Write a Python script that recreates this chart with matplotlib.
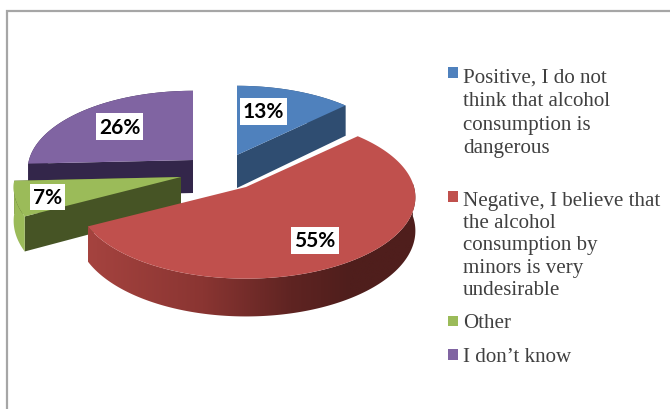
import numpy as np
import matplotlib
matplotlib.use("Agg")
import matplotlib.pyplot as plt
from matplotlib.patches import Polygon, Rectangle
from matplotlib.colors import LinearSegmentedColormap

categories = ["Positive, I do not\nthink that alcohol\nconsumption is\ndangerous",
              "Negative, I believe that\nthe alcohol\nconsumption by\nminors is very\nundesirable",
              "Other", "I don\u2019t know"]
values = [13, 55, 7, 26]
percent_labels = ["13%", "55%", "7%", "26%"]
top_colors = ["#4f81bd", "#c0504d", "#9bbb59", "#8064a2"]
cut_colors = ["#2f4d71", "#7a2f2d", "#465425", "#33264a"]
outer_colors = ["#2f4d71", None, "#9bbb59", "#33264a"]
centers = [(237, 156), (246, 188), (181, 178), (193, 161)]
radius_x = [163, 168, 166, 164]
radius_y = [78, 80, 80, 78]
label_pos = [(263.5, 112.5), (315, 241.5), (47.5, 198), (119.5, 127.5)]
legend_y = [113.5, 246, 324, 358]
legend_spacing = [1.31, 1.23, 1.2, 1.2]
marker_y = [73.5, 197.5, 322, 355.5]

K, DEPTH = 0.127, 33

def project(i, theta):
    c = centers[i]
    u, v = np.sin(theta), np.cos(theta)
    w = 1 + K * v
    return c[0] + radius_x[i] * u / w, c[1] - radius_y[i] * v / w, DEPTH / w

fig = plt.figure(figsize=(6.7, 4.1), dpi=100)
ax = fig.add_axes([0, 0, 1, 1])
ax.axis("off")

# frame
ax.plot([7, 7, 670], [410, 12, 12], color="#a6a6a6", lw=1.6, solid_joinstyle="miter", zorder=0)

total = sum(values)
edges = np.cumsum([0] + values) / total * 2 * np.pi
red_wall = LinearSegmentedColormap.from_list(
    "red_wall", [(0, "#a5433f"), (0.35, "#8a3532"), (0.62, "#5f2422"), (0.8, "#4f1e1c"), (1, "#4f1e1c")])

def draw_slice(i, z):
    c = centers[i]
    t = np.linspace(edges[i], edges[i + 1], 240)
    x, y, d = project(i, t)
    dc = DEPTH
    for j in (0, -1):
        quad = [c, (x[j], y[j]), (x[j], y[j] + d[j]), (c[0], c[1] + dc)]
        if i != 1:
            ax.add_patch(Polygon(quad, closed=True, fc=cut_colors[i], ec="none", zorder=z))
    wall = np.vstack([np.column_stack([x, y]), np.column_stack([x, y + d])[::-1]])
    if i == 1:
        m = np.cos(t) < 0.05
        wall = np.vstack([np.column_stack([x[m], y[m]]), np.column_stack([x[m], (y + d)[m]])[::-1]])
        patch = Polygon(wall, closed=True, fc="none", ec="none", zorder=z)
        ax.add_patch(patch)
        im = ax.imshow(np.linspace(0, 1, 256)[None, :], cmap=red_wall, aspect="auto",
                       extent=(x[m].min(), x[m].max(), 330, 180), zorder=z, interpolation="bilinear")
        im.set_clip_path(patch)
    else:
        ax.add_patch(Polygon(wall, closed=True, fc=outer_colors[i], ec="none", zorder=z))
    ax.add_patch(Polygon(np.vstack([[c], np.column_stack([x, y])]), closed=True,
                         fc=top_colors[i], ec="none", zorder=z + 0.5))

for z, i in enumerate([3, 0, 2, 1], start=1):
    draw_slice(i, z)

for (px, py), s in zip(label_pos, percent_labels):
    ax.text(px, py, s, ha="center", va="center", family="Lato", weight="bold", fontsize=15,
            color="black", zorder=10, bbox=dict(fc="white", ec="none", pad=2.2))

for name, color, ly, my, sp in zip(categories, top_colors, legend_y, marker_y, legend_spacing):
    ax.add_patch(Rectangle((447.5, my - 5.25), 10.5, 10.5, fc=color, ec="none"))
    ax.text(463, ly, name, ha="left", va="center", family="Liberation Serif", fontsize=15.15,
            color="#404040", linespacing=sp)

ax.set_xlim(0, 670); ax.set_ylim(410, 0)
fig.savefig("out.png", dpi=100)
